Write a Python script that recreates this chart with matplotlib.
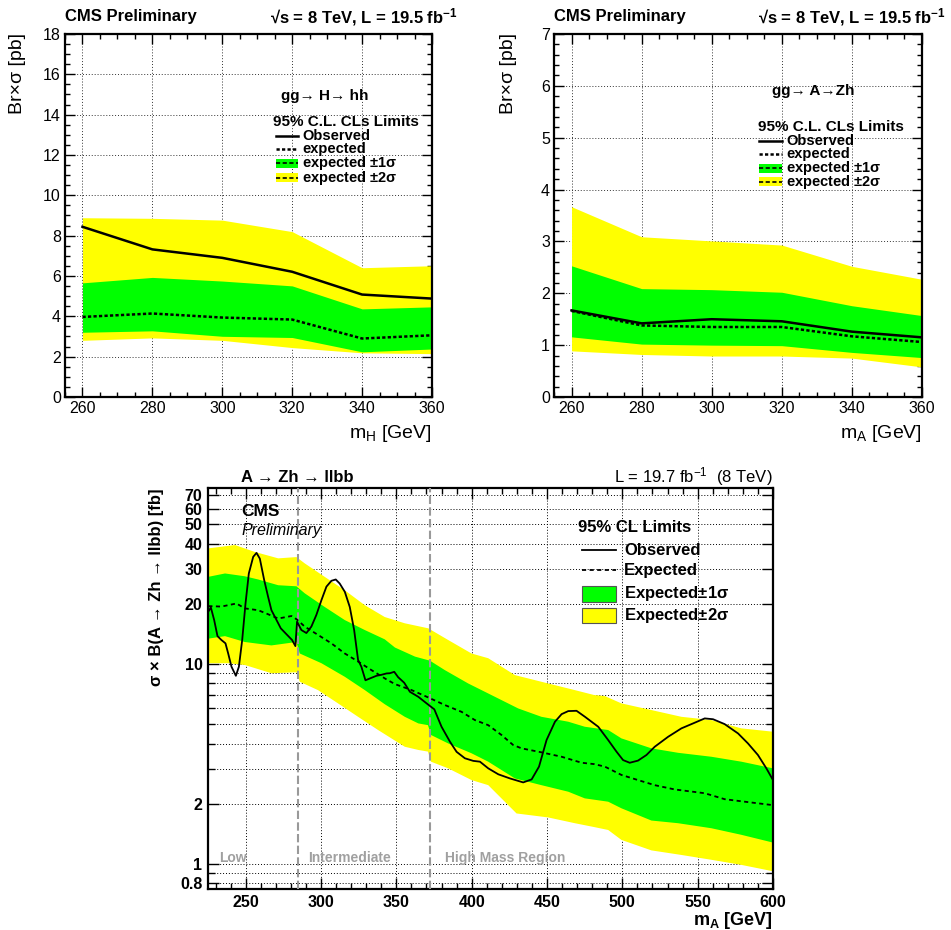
import numpy as np
import matplotlib
matplotlib.use('Agg')
import matplotlib.pyplot as plt
from matplotlib.patches import Rectangle
from matplotlib.lines import Line2D
from matplotlib.ticker import MultipleLocator, FixedLocator, FixedFormatter, NullFormatter

plt.rcParams['font.family'] = ['Liberation Sans', 'DejaVu Sans']
plt.rcParams['mathtext.fontset'] = 'custom'
plt.rcParams['mathtext.rm'] = 'Liberation Sans'
plt.rcParams['mathtext.bf'] = 'Liberation Sans:bold'
plt.rcParams['mathtext.it'] = 'Liberation Sans:italic'
plt.rcParams['mathtext.default'] = 'regular'

GREEN = '#00ff00'
YELLOW = '#ffff00'

# ---------------- data: gg -> H -> hh ----------------
mH = [260, 280, 300, 320, 340, 360]
hh_obs = [8.44, 7.32, 6.90, 6.21, 5.08, 4.88]
hh_exp = [3.97, 4.14, 3.94, 3.84, 2.90, 3.06]
hh_1s_lo = [3.21, 3.28, 3.01, 2.95, 2.24, 2.38]
hh_1s_hi = [5.66, 5.93, 5.75, 5.51, 4.37, 4.47]
hh_2s_lo = [2.81, 2.93, 2.81, 2.45, 2.19, 2.15]
hh_2s_hi = [8.89, 8.86, 8.77, 8.20, 6.41, 6.51]

# ---------------- data: gg -> A -> Zh ----------------
mA_top = [260, 280, 300, 320, 340, 360]
zh_obs = [1.67, 1.42, 1.50, 1.46, 1.26, 1.15]
zh_exp = [1.66, 1.38, 1.35, 1.35, 1.17, 1.06]
zh_1s_lo = [1.16, 1.02, 1.00, 0.99, 0.86, 0.76]
zh_1s_hi = [2.53, 2.09, 2.07, 2.02, 1.76, 1.57]
zh_2s_lo = [0.89, 0.82, 0.79, 0.79, 0.75, 0.58]
zh_2s_hi = [3.67, 3.09, 3.01, 2.93, 2.52, 2.27]

# ---------------- data: A -> Zh -> llbb (fb) ----------------
obs_m = [225.2, 226.9, 229.1, 231.3, 233.9, 236.6, 238.4, 240.6, 243.5, 245.5,
         247.7, 249.9, 252.1, 255.0, 257.2, 259.4, 262.3, 264.9, 267.1, 270.5,
         273.3, 277.1, 280.8, 283.0, 284.1, 287.0, 290.3, 293.6, 296.9, 300.3,
         303.6, 306.9, 309.8, 312.4, 315.8, 319.1, 322.0, 324.6, 326.8, 329.5,
         333.5, 336.8, 340.1, 343.5, 345.7, 348.6, 351.2, 355.2, 359.0, 364.6,
         370.1, 375.2, 380.0, 385.6, 390.0, 395.5, 401.1, 405.5, 411.0, 417.7,
         425.4, 434.2, 439.8, 444.7, 449.7, 455.3, 459.7, 464.1, 469.6, 475.2,
         484.0, 490.6, 496.1, 500.5, 504.9, 510.4, 516.0, 521.5, 530.4, 539.2,
         548.0, 554.7, 560.2, 567.9, 576.8, 583.4, 590.0, 595.6, 600.0]
obs_v = [18.3, 19.2, 16.6, 13.8, 13.2, 12.7, 11.3, 9.7, 8.74, 9.7,
         13.2, 20.1, 28.4, 34.4, 36.0, 33.7, 26.3, 21.7, 18.6, 16.6,
         15.1, 14.1, 13.2, 12.3, 16.3, 14.8, 14.3, 15.4, 17.6, 20.9,
         24.4, 26.1, 26.5, 25.3, 23.0, 19.3, 14.8, 10.5, 9.7, 8.3,
         8.54, 8.74, 8.84, 8.98, 9.0, 9.15, 8.6, 8.07, 7.27, 6.86,
         6.36, 5.94, 4.86, 4.09, 3.64, 3.38, 3.28, 3.25, 3.01, 2.81,
         2.68, 2.56, 2.65, 3.07, 4.17, 5.15, 5.62, 5.82, 5.84, 5.45,
         4.86, 4.17, 3.65, 3.31, 3.21, 3.29, 3.51, 3.86, 4.33, 4.77,
         5.09, 5.35, 5.30, 5.01, 4.50, 4.01, 3.51, 3.01, 2.63]

exp_m = [225.2, 233.9, 243.9, 249.4, 258.3, 263.8, 271.6, 280.4, 284.1, 289.2,
         298.0, 306.9, 315.8, 324.6, 333.5, 343.5, 349.1, 360.2, 371.2, 382.2,
         393.3, 402.1, 411.0, 419.8, 427.5, 433.1, 446.3, 459.7, 473.0, 481.4,
         488.4, 499.4, 510.4, 521.5, 534.8, 554.7, 567.9, 581.2, 600.0]
exp_v = [19.5, 19.4, 20.1, 19.0, 18.6, 17.9, 16.9, 17.4, 16.7, 15.4,
         14.0, 12.7, 11.3, 10.3, 9.33, 8.38, 7.94, 7.41, 6.81, 6.24,
         5.77, 5.25, 4.95, 4.42, 3.94, 3.79, 3.62, 3.44, 3.21, 3.16,
         3.07, 2.79, 2.63, 2.48, 2.36, 2.26, 2.11, 2.05, 1.97]

g_hi_m = [225, 236.3, 249.4, 258.3, 271.6, 283.7, 289.2, 302.5, 315.8, 329.1,
          342.3, 349.1, 362.4, 372.3, 382.2, 397.7, 411.0, 430.9, 446.3, 464.1,
          475.1, 490.6, 499.4, 519.3, 537.0, 559.1, 579.0, 600]
g_hi_v = [27.3, 28.4, 27.5, 26.5, 24.8, 24.5, 22.6, 19.3, 16.6, 14.8,
          13.3, 12.1, 10.9, 10.4, 9.33, 8.0, 7.13, 6.0, 5.45, 5.15,
          4.86, 4.68, 4.25, 3.79, 3.60, 3.44, 3.25, 3.01]

g_lo_m = [225, 236.3, 249.4, 267.1, 283.7, 285.9, 300.3, 315.8, 329.1, 342.3,
          355.6, 364.6, 371.0, 373.0, 384.4, 399.9, 411.0, 428.7, 446.3, 464.1,
          475.1, 490.6, 499.4, 519.3, 537.0, 559.1, 579.0, 600]
g_lo_v = [13.4, 13.8, 12.9, 12.4, 12.9, 11.3, 10.1, 8.64, 7.41, 6.3,
          5.45, 5.05, 4.95, 4.42, 4.01, 3.58, 3.25, 2.68, 2.48, 2.30,
          2.13, 2.05, 1.90, 1.65, 1.60, 1.51, 1.40, 1.28]

y_hi_m = [225, 242.9, 256.1, 271.6, 283.7, 289.2, 302.5, 315.8, 329.1, 342.3,
          355.6, 371.2, 384.4, 399.9, 411.0, 428.7, 450.8, 468.5, 481.4, 488.4,
          499.4, 519.3, 539.2, 559.1, 579.0, 600]
y_hi_v = [37.9, 39.4, 36.4, 33.8, 34.3, 31.9, 27.3, 23.4, 19.7, 17.2,
          16.0, 15.1, 13.2, 11.3, 10.7, 8.81, 8.0, 7.41, 7.0, 6.92,
          6.36, 5.89, 5.45, 5.25, 4.77, 4.59]

y_lo_m = [225, 238.4, 249.4, 267.1, 283.7, 285.9, 298.0, 311.3, 324.6, 337.9,
          355.6, 364.6, 371.0, 373.0, 384.4, 399.9, 411.0, 429.8, 450.8, 468.5,
          481.4, 490.6, 499.4, 519.3, 539.2, 559.1, 579.0, 600]
y_lo_v = [10.1, 10.1, 9.9, 9.0, 9.1, 8.16, 7.41, 6.36, 5.45, 4.68,
          3.86, 3.72, 3.65, 3.25, 3.01, 2.63, 2.48, 1.79, 1.71, 1.60,
          1.53, 1.48, 1.32, 1.17, 1.11, 1.05, 0.99, 0.92]

region_bounds = [284.5, 372.5]
region_labels = ['Low', 'Intermediate', 'High Mass Region']
region_label_x = [232.5, 291.3, 382.2]

y_major = [0.8, 1, 2, 10, 20, 30, 40, 50, 60, 70]
y_major_labels = ['0.8', '1', '2', '10', '20', '30', '40', '50', '60', '70']
y_minor = [0.9, 3, 4, 5, 6, 7, 8, 9]

# ---------------- figure ----------------
W, H = 951, 930
fig = plt.figure(figsize=(W / 100, H / 100), dpi=100)


def fx(x):
    return x / W


def fy(y):
    return 1 - y / H


def axes_px(l, t, r, b):
    return fig.add_axes([fx(l), fy(b), (r - l) / W, (b - t) / H])


def ftext(x, y, s, **kw):
    kw.setdefault('ha', 'left')
    kw.setdefault('va', 'center')
    fig.text(fx(x), fy(y), s, **kw)


def fline(x1, x2, y, **kw):
    fig.add_artist(Line2D([fx(x1), fx(x2)], [fy(y), fy(y)], transform=fig.transFigure, **kw))


def frect(l, t, r, b, **kw):
    fig.add_artist(Rectangle((fx(l), fy(b)), (r - l) / W, (b - t) / H,
                             transform=fig.transFigure, **kw))


def style_top(ax, ymax, ymaj, ymin):
    ax.set_xlim(255, 360)
    ax.set_ylim(0, ymax)
    ax.xaxis.set_major_locator(MultipleLocator(20))
    ax.xaxis.set_minor_locator(MultipleLocator(5))
    ax.yaxis.set_major_locator(MultipleLocator(ymaj))
    ax.yaxis.set_minor_locator(MultipleLocator(ymin))
    ax.tick_params(which='both', direction='in', top=True, right=True, labelsize=11.5, pad=3)
    ax.tick_params(which='major', length=7, width=1)
    ax.tick_params(which='minor', length=3.5, width=1)
    ax.grid(True, which='major', linestyle=(0, (1, 2)), color='#333333', lw=0.7)
    ax.set_axisbelow(True)
    for sp in ax.spines.values():
        sp.set_linewidth(1.6)


def top_panel(ax, m, obs, exp, lo1, hi1, lo2, hi2):
    ax.fill_between(m, lo2, hi2, color=YELLOW, lw=0, zorder=1)
    ax.fill_between(m, lo1, hi1, color=GREEN, lw=0, zorder=2)
    ax.plot(m, exp, color='black', lw=1.8, linestyle=(0, (1.3, 0.9)), zorder=3)
    ax.plot(m, obs, color='black', lw=1.8, zorder=4)


def top_legend(tx, ty, lx1, lx2, txt_x, rows, box_h):
    ftext(tx, ty, '95% C.L. CLs Limits', fontsize=11, fontweight='bold')
    labels = ['Observed', 'expected', 'expected $\\mathbf{\\pm}$1\u03c3', 'expected $\\mathbf{\\pm}$2\u03c3']
    fline(lx1, lx2, rows[0], color='black', lw=1.8)
    fline(lx1, lx2, rows[1], color='black', lw=1.8, linestyle=(0, (1.3, 0.9)))
    for y, c in ((rows[2], GREEN), (rows[3], YELLOW)):
        frect(lx1, y - box_h / 2, lx2, y + box_h / 2, color=c, lw=0)
        fline(lx1, lx2, y, color='black', lw=1.2, linestyle=(0, (2.5, 1.5)))
    for y, s in zip(rows, labels):
        ftext(txt_x, y, s, fontsize=10.5, fontweight='bold')


# ---- top-left ----
ax1 = axes_px(65, 34, 432, 397)
style_top(ax1, 18, 2, 0.5)
top_panel(ax1, mH, hh_obs, hh_exp, hh_1s_lo, hh_1s_hi, hh_2s_lo, hh_2s_hi)
ftext(65, 17, 'CMS Preliminary', fontsize=12, fontweight='bold')
ftext(458, 17, '\u221as = 8 TeV, L = 19.5 fb$^{\\mathbf{-1}}$', fontsize=12, fontweight='bold', ha='right')
ftext(18, 33, 'Br\u00d7\u03c3 [pb]', fontsize=14, rotation=90, ha='center', va='top')
ftext(432, 438, 'm$_{\\rm H}$ [GeV]', fontsize=14, ha='right', va='baseline')
ftext(281, 96, 'gg\u2192 H\u2192 hh', fontsize=11, fontweight='bold')
top_legend(273, 121.7, 276, 298, 302, [135.7, 149.3, 163.5, 177.5], 9)

# ---- top-right ----
ax2 = axes_px(554, 34, 922, 397)
style_top(ax2, 7, 1, 0.2)
top_panel(ax2, mA_top, zh_obs, zh_exp, zh_1s_lo, zh_1s_hi, zh_2s_lo, zh_2s_hi)
ftext(554, 17, 'CMS Preliminary', fontsize=12, fontweight='bold')
ftext(946, 17, '\u221as = 8 TeV, L = 19.5 fb$^{\\mathbf{-1}}$', fontsize=12, fontweight='bold', ha='right')
ftext(508.5, 33, 'Br\u00d7\u03c3 [pb]', fontsize=14, rotation=90, ha='center', va='top')
ftext(922, 438, 'm$_{\\rm A}$ [GeV]', fontsize=14, ha='right', va='baseline')
ftext(772.5, 91, 'gg\u2192 A\u2192Zh', fontsize=11, fontweight='bold')
top_legend(757.5, 126.7, 759, 782, 786.5, [140.7, 154.3, 168.3, 181.7], 9)

# ---- bottom ----
ax3 = axes_px(208, 488, 773, 889)
ax3.set_yscale('log')
ax3.set_xlim(225, 600)
ax3.set_ylim(0.75, 76)
ax3.fill(np.r_[y_hi_m, y_lo_m[::-1]], np.r_[y_hi_v, y_lo_v[::-1]], color=YELLOW, lw=0, zorder=1)
ax3.fill(np.r_[g_hi_m, g_lo_m[::-1]], np.r_[g_hi_v, g_lo_v[::-1]], color=GREEN, lw=0, zorder=2)
for xb in region_bounds:
    ax3.axvline(xb, color='#999999', lw=1.5, linestyle=(0, (4, 1.6)), zorder=3)
ax3.plot(exp_m, exp_v, color='black', lw=1.3, linestyle=(0, (2.3, 1.9)), zorder=4)
ax3.plot(obs_m, obs_v, color='black', lw=1.3, zorder=5)
for xl, s in zip(region_label_x, region_labels):
    ax3.text(xl, 1.067, s, color='#a0a0a0', fontsize=10, fontweight='bold', ha='left', va='center')

ax3.xaxis.set_major_locator(MultipleLocator(50))
ax3.xaxis.set_minor_locator(MultipleLocator(10))
ax3.yaxis.set_major_locator(FixedLocator(y_major))
ax3.yaxis.set_major_formatter(FixedFormatter(y_major_labels))
ax3.yaxis.set_minor_locator(FixedLocator(y_minor))
ax3.yaxis.set_minor_formatter(NullFormatter())
ax3.tick_params(which='both', direction='in', top=True, right=True, labelsize=11.5, pad=4)
ax3.tick_params(which='major', length=8, width=1)
ax3.tick_params(which='minor', length=5, width=1)
ax3.tick_params(axis='x', which='minor', length=4.5)
for lab in ax3.get_xticklabels() + ax3.get_yticklabels():
    lab.set_fontweight('bold')
ax3.grid(True, axis='x', which='major', linestyle=(0, (1, 2)), color='black', lw=0.7)
ax3.grid(True, axis='y', which='both', linestyle=(0, (1, 2)), color='black', lw=0.7)
ax3.set_axisbelow(True)
for sp in ax3.spines.values():
    sp.set_linewidth(1.6)

ftext(241.5, 477, 'A \u2192 Zh \u2192 llbb', fontsize=12, fontweight='bold')
ftext(773, 477, 'L = 19.7 fb$^{-1}$  (8 TeV)', fontsize=12, ha='right')
ftext(241.5, 511.5, 'CMS', fontsize=12.5, fontweight='bold')
ftext(241.5, 530, 'Preliminary', fontsize=11.5, style='italic')
ftext(157, 488, '\u03c3 \u00d7 B(A \u2192 Zh \u2192 llbb) [fb]', fontsize=12, fontweight='bold',
      rotation=90, ha='center', va='top')
ftext(773, 925, '$\\mathbf{m_A}$ [GeV]', fontsize=13, fontweight='bold', ha='right', va='baseline')

# bottom legend
ftext(578, 528, '95% CL Limits', fontsize=12, fontweight='bold')
fline(581.5, 615.5, 550, color='black', lw=1.3)
fline(581.5, 615.5, 570, color='black', lw=1.3, linestyle=(0, (2.3, 1.9)))
frect(581.5, 586, 615.5, 601.5, facecolor=GREEN, edgecolor='#555555', lw=0.8)
frect(581.5, 607.7, 615.5, 623.3, facecolor=YELLOW, edgecolor='#555555', lw=0.8)
ftext(624, 550, 'Observed', fontsize=12, fontweight='bold')
ftext(624, 570, 'Expected', fontsize=12, fontweight='bold')
ftext(624, 593.5, 'Expected$\\mathbf{\\pm}$1\u03c3', fontsize=12, fontweight='bold')
ftext(624, 615.5, 'Expected$\\mathbf{\\pm}$2\u03c3', fontsize=12, fontweight='bold')

fig.savefig('out.png', dpi=100)
